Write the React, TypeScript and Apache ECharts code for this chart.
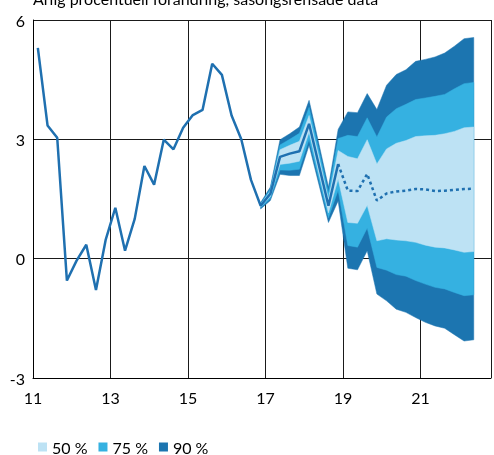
import React, { useEffect, useRef } from 'react';
import * as echarts from 'echarts';

const titleText = 'Årlig procentuell förändring, säsongsrensade data';

// Outcome (solid line), quarterly, in decimal years (20xx)
const histQuarters = [
  11.125, 11.375, 11.625, 11.875, 12.125, 12.375, 12.625, 12.875,
  13.125, 13.375, 13.625, 13.875, 14.125, 14.375, 14.625, 14.875,
  15.125, 15.375, 15.625, 15.875, 16.125, 16.375, 16.625, 16.875,
  17.125, 17.375, 17.625, 17.875, 18.125, 18.375, 18.625, 18.875,
];
const histValues = [
  5.3, 3.35, 3.04, -0.55, -0.05, 0.35, -0.79, 0.47,
  1.28, 0.2, 1.0, 2.33, 1.86, 2.99, 2.75, 3.29,
  3.61, 3.74, 4.9, 4.62, 3.6, 3.0, 1.98, 1.33,
  1.63, 2.56, 2.64, 2.7, 3.39, 2.36, 1.33, 2.38,
];

// Forecast (dotted line)
const fcQuarters = [
  18.875, 19.125, 19.375, 19.625, 19.875, 20.125, 20.375, 20.625,
  20.875, 21.125, 21.375, 21.625, 21.875, 22.125, 22.375,
];
const fcValues = [
  2.38, 1.71, 1.7, 2.13, 1.46, 1.64, 1.69, 1.71,
  1.75, 1.74, 1.7, 1.71, 1.73, 1.75, 1.76,
];

// Uncertainty bands
const fanQuarters = [
  16.875, 17.125, 17.375, 17.625, 17.875, 18.125, 18.375, 18.625,
  18.875, 19.125, 19.375, 19.625, 19.875, 20.125, 20.375, 20.625,
  20.875, 21.125, 21.375, 21.625, 21.875, 22.125, 22.375,
];
const lo90 = [1.25, 1.46, 2.12, 2.09, 2.09, 2.85, 1.88, 0.91, 1.45, -0.24, -0.28, 0.2, -0.89, -1.06, -1.27, -1.35, -1.48, -1.6, -1.69, -1.75, -1.91, -2.07, -2.04];
const lo75 = [1.28, 1.51, 2.23, 2.22, 2.25, 3.0, 2.0, 1.03, 1.72, 0.33, 0.29, 0.77, -0.22, -0.29, -0.4, -0.44, -0.55, -0.64, -0.72, -0.76, -0.85, -0.93, -0.91];
const lo50 = [1.3, 1.56, 2.37, 2.4, 2.45, 3.18, 2.15, 1.15, 2.0, 0.91, 0.89, 1.34, 0.45, 0.5, 0.47, 0.45, 0.41, 0.34, 0.29, 0.27, 0.22, 0.16, 0.18];
const hi50 = [1.36, 1.7, 2.74, 2.85, 2.95, 3.6, 2.58, 1.5, 2.72, 2.57, 2.51, 2.99, 2.38, 2.76, 2.9, 2.97, 3.07, 3.09, 3.1, 3.14, 3.2, 3.29, 3.31];
const hi75 = [1.38, 1.75, 2.86, 3.0, 3.15, 3.8, 2.75, 1.65, 3.02, 3.1, 3.07, 3.54, 3.06, 3.56, 3.77, 3.88, 4.0, 4.04, 4.08, 4.13, 4.27, 4.4, 4.43];
const hi90 = [1.41, 1.8, 2.99, 3.14, 3.31, 3.98, 2.9, 1.8, 3.25, 3.69, 3.67, 4.15, 3.75, 4.36, 4.63, 4.75, 4.96, 5.01, 5.07, 5.17, 5.34, 5.53, 5.56];

const xTickLabels = [11, 13, 15, 17, 19, 21];
const legendLabels = ['50 %', '75 %', '90 %'];

const C50 = '#bde2f4';
const C75 = '#35b1e1';
const C90 = '#1c75b0';
const LINE = '#1f70b0';
const FONT = 'Lato, "Noto Sans", sans-serif';
const FS = 16;

export default function App() {
  const ref = useRef<HTMLDivElement>(null);

  useEffect(() => {
    const chart = echarts.init(ref.current!, null, { renderer: 'svg' });

    const pairs = (xs: number[], ys: number[]) => xs.map((x, i) => [x, ys[i]]);

    const band = (name: string, lo: number[], hi: number[], color: string, z: number) => {
      const rows = fanQuarters.map((x, i) => [x, lo[i], hi[i]]);
      return {
        name,
        type: 'custom',
        data: rows,
        encode: { x: 0, y: [1, 2] },
        silent: true,
        z,
        itemStyle: { color },
        renderItem: (params: any, api: any) => {
          if (params.dataIndex !== 0) return null;
          const top = rows.map((r) => api.coord([r[0], r[2]]));
          const bottom = rows.map((r) => api.coord([r[0], r[1]])).reverse();
          return {
            type: 'polygon',
            shape: { points: top.concat(bottom) },
            style: { fill: color, stroke: color, lineWidth: 0.5 },
          };
        },
      };
    };

    const option = {
      animation: false,
      graphic: [
        {
          type: 'text',
          left: 33,
          top: -10,
          style: { text: titleText, font: `${FS}px ${FONT}`, fill: '#000' },
        },
      ],
      grid: { left: 33, right: 0, top: 20, bottom: 77, containLabel: false },
      legend: {
        left: 38,
        top: 439,
        padding: 0,
        icon: 'rect',
        itemWidth: 9,
        itemHeight: 9,
        itemGap: 11,
        selectedMode: false,
        textStyle: { fontFamily: FONT, fontSize: FS, color: '#000' },
        data: [
          { name: legendLabels[0], itemStyle: { color: C50, borderWidth: 0 } },
          { name: legendLabels[1], itemStyle: { color: C75, borderWidth: 0 } },
          { name: legendLabels[2], itemStyle: { color: C90, borderWidth: 0 } },
        ],
      },
      xAxis: {
        type: 'value',
        min: 11,
        max: 22.82,
        interval: 2,
        axisLine: { show: true, onZero: false, lineStyle: { color: '#000', width: 1 } },
        axisTick: { show: false },
        splitLine: { show: true, lineStyle: { color: '#1a1a1a', width: 1 } },
        axisLabel: {
          margin: 11,
          fontFamily: FONT,
          fontSize: FS,
          color: '#000',
          formatter: (v: number) => (xTickLabels.indexOf(v) >= 0 ? String(v) : ''),
        },
      },
      yAxis: {
        type: 'value',
        min: -3,
        max: 6,
        interval: 3,
        axisLine: { show: true, lineStyle: { color: '#000', width: 1 } },
        axisTick: { show: false },
        splitLine: { show: true, lineStyle: { color: '#1a1a1a', width: 1 } },
        axisLabel: { margin: 8, fontFamily: FONT, fontSize: FS, color: '#000' },
      },
      series: [
        band(legendLabels[2], lo90, hi90, C90, 2),
        band(legendLabels[1], lo75, hi75, C75, 3),
        band(legendLabels[0], lo50, hi50, C50, 4),
        {
          name: 'Utfall',
          type: 'line',
          data: pairs(histQuarters, histValues),
          showSymbol: false,
          symbol: 'none',
          lineStyle: { color: LINE, width: 2.5 },
          itemStyle: { color: LINE },
          z: 5,
        },
        {
          name: 'Prognos',
          type: 'line',
          data: pairs(fcQuarters, fcValues),
          showSymbol: false,
          symbol: 'none',
          lineStyle: { color: LINE, width: 2.5, type: [3, 3] },
          itemStyle: { color: LINE },
          z: 5,
        },
      ],
    };

    chart.setOption(option as any);
    return () => chart.dispose();
  }, []);

  return (
    <div
      ref={ref}
      style={{ position: 'fixed', left: 0, top: 0, width: 494, height: 455 }}
    />
  );
}
